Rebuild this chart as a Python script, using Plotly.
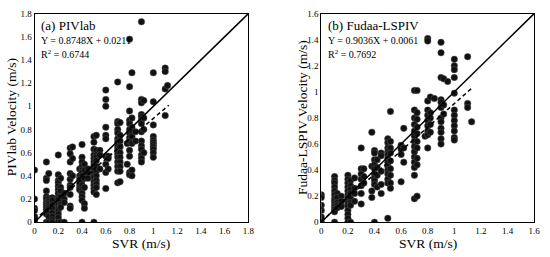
import plotly.graph_objects as go

# ---- Data: (a) PIVlab, grouped by SVR value ----
piv_svr_groups = [0.0, 0.1, 0.12, 0.15, 0.2, 0.22, 0.25, 0.3, 0.32, 0.38, 0.4, 0.42, 0.45,
                  0.5, 0.52, 0.55, 0.6, 0.62, 0.7, 0.72, 0.78, 0.8, 0.82, 0.85, 0.9, 0.92,
                  1.0, 1.1, 1.12]
piv_vel_groups = [
    [0.45, 0.20, 0.12, 0.10, 0.05, 0.02, 0.0],
    [0.52, 0.38, 0.36, 0.27, 0.22, 0.20, 0.17, 0.15, 0.13, 0.11, 0.09, 0.07, 0.0],
    [0.42, 0.20, 0.18, 0.16, 0.14, 0.12, 0.10, 0.08, 0.05, 0.0],
    [0.21, 0.19, 0.15, 0.12, 0.08, 0.05, 0.02, 0.0],
    [0.58, 0.41, 0.36, 0.34, 0.31, 0.28, 0.25, 0.22, 0.20, 0.17, 0.15, 0.12, 0.10, 0.07, 0.04, 0.0],
    [0.38, 0.30, 0.27, 0.22, 0.18, 0.15, 0.13, 0.0],
    [0.25, 0.20, 0.17, 0.0],
    [0.64, 0.59, 0.52, 0.42, 0.37, 0.32, 0.30, 0.24, 0.14, 0.12],
    [0.65, 0.55, 0.40],
    [0.46, 0.40, 0.37, 0.33, 0.30, 0.28],
    [0.67, 0.56, 0.52, 0.48, 0.45, 0.43, 0.40, 0.36, 0.32, 0.28, 0.25, 0.22, 0.19, 0.0],
    [0.50, 0.45, 0.38, 0.30, 0.16, 0.12],
    [0.46, 0.42, 0.38],
    [0.74, 0.69, 0.63, 0.58, 0.55, 0.52, 0.49, 0.46, 0.43, 0.39, 0.35, 0.32, 0.29, 0.26, 0.0],
    [0.75, 0.62, 0.58, 0.56, 0.53, 0.48, 0.44, 0.40, 0.36, 0.33, 0.30, 0.24],
    [0.62, 0.58, 0.46],
    [1.14, 1.06, 1.00, 0.82, 0.75, 0.72, 0.57, 0.50, 0.43, 0.29],
    [0.57, 0.55, 0.46],
    [1.21, 0.87, 0.85, 0.80, 0.77, 0.72, 0.69, 0.65, 0.62, 0.59, 0.56, 0.52, 0.48, 0.44, 0.34],
    [0.86, 0.75, 0.70, 0.65, 0.60, 0.56, 0.52, 0.48, 0.44, 0.35],
    [0.68, 0.50],
    [1.58, 1.17, 0.96, 0.88, 0.85, 0.80, 0.77, 0.73, 0.70, 0.62, 0.57, 0.43, 0.41],
    [1.29, 0.90, 0.82, 0.78, 0.74, 0.68, 0.45, 0.40],
    [0.78, 0.70],
    [1.73, 1.06, 1.03, 0.93, 0.91, 0.88, 0.85, 0.78, 0.70, 0.66, 0.63, 0.58, 0.55, 0.52],
    [1.05, 0.90, 0.80, 0.60],
    [1.29, 1.04, 0.84, 0.74, 0.71, 0.69, 0.67, 0.65, 0.63, 0.60, 0.56],
    [1.33, 1.30, 1.15, 0.92],
    [1.18],
]

# ---- Data: (b) Fudaa-LSPIV, grouped by SVR value ----
fud_svr_groups = [0.0, 0.1, 0.12, 0.15, 0.2, 0.22, 0.25, 0.3, 0.32, 0.38, 0.4, 0.42, 0.45,
                  0.5, 0.52, 0.6, 0.62, 0.7, 0.72, 0.78, 0.8, 0.82, 0.85, 0.9, 0.92, 0.95,
                  1.0, 1.1, 1.13]
fud_vel_groups = [
    [0.21, 0.19, 0.13, 0.09, 0.04, 0.0],
    [0.35, 0.32, 0.30, 0.27, 0.24, 0.21, 0.18, 0.16, 0.14, 0.12, 0.10, 0.08, 0.0],
    [0.22, 0.19, 0.15, 0.13, 0.11],
    [0.20, 0.16, 0.13, 0.12],
    [0.36, 0.33, 0.30, 0.27, 0.24, 0.21, 0.19, 0.16, 0.14, 0.12, 0.09, 0.06, 0.03, 0.0],
    [0.32, 0.28, 0.25, 0.22, 0.18, 0.15, 0.13, 0.0],
    [0.34, 0.26, 0.22, 0.16],
    [0.57, 0.41, 0.37, 0.33, 0.28, 0.22, 0.14],
    [0.41, 0.35, 0.30],
    [0.69, 0.43, 0.24, 0.19],
    [0.55, 0.53, 0.48, 0.44, 0.41, 0.37, 0.34, 0.32, 0.29, 0.0],
    [0.48, 0.42, 0.36, 0.27],
    [0.53, 0.51, 0.39, 0.29, 0.22],
    [0.64, 0.61, 0.57, 0.54, 0.52, 0.49, 0.46, 0.43, 0.40, 0.37, 0.33, 0.30, 0.03],
    [0.85, 0.62, 0.57, 0.53, 0.47, 0.41, 0.36, 0.30, 0.26],
    [0.59, 0.56, 0.52, 0.31],
    [0.72, 0.57, 0.46],
    [1.01, 0.86, 0.80, 0.75, 0.70, 0.66, 0.62, 0.58, 0.54, 0.50, 0.46, 0.42, 0.36, 0.18],
    [1.01, 0.84, 0.79, 0.73, 0.68, 0.62, 0.57, 0.49, 0.44, 0.20],
    [0.66],
    [1.41, 1.39, 0.93, 0.86, 0.82, 0.78, 0.74, 0.70, 0.67, 0.57],
    [0.96, 0.84, 0.80, 0.75, 0.69],
    [0.95],
    [1.38, 1.30, 1.11, 0.94, 0.92, 0.88, 0.80, 0.77, 0.72, 0.69, 0.64, 0.60],
    [1.10, 0.90, 0.83],
    [1.08],
    [1.25, 1.20, 1.17, 1.11, 0.99, 0.86, 0.82, 0.78, 0.74, 0.70, 0.65, 0.63],
    [1.27, 0.91, 0.88],
    [0.77],
]

# Regression results shown on chart
piv_slope, piv_icpt, piv_r2 = 0.8748, 0.0211, 0.6744
fud_slope, fud_icpt, fud_r2 = 0.9036, 0.0061, 0.7692
piv_axis_max = 1.8
fud_axis_max = 1.6
fit_x_range = [0.0, 1.13]
tick_vals_a = [0, 0.2, 0.4, 0.6, 0.8, 1, 1.2, 1.4, 1.6, 1.8]
tick_vals_b = [0, 0.2, 0.4, 0.6, 0.8, 1, 1.2, 1.4, 1.6]


def flatten(xs, ys):
    fx, fy = [], []
    for x, g in zip(xs, ys):
        for y in g:
            fx.append(x)
            fy.append(y)
    return fx, fy


px_, py_ = flatten(piv_svr_groups, piv_vel_groups)
fx_, fy_ = flatten(fud_svr_groups, fud_vel_groups)

FONT = "Liberation Serif"
fig = go.Figure()

marker = dict(size=6.5, color="#111111", line=dict(width=0.5, color="#555555"))
dash_style = "4px,3px"

# Panel a
fig.add_trace(go.Scatter(x=px_, y=py_, mode="markers", marker=marker, xaxis="x", yaxis="y"))
fig.add_trace(go.Scatter(x=[0, piv_axis_max], y=[0, piv_axis_max], mode="lines",
                         line=dict(color="black", width=1.5), xaxis="x", yaxis="y"))
fig.add_trace(go.Scatter(x=fit_x_range, y=[piv_slope * v + piv_icpt for v in fit_x_range],
                         mode="lines", line=dict(color="black", width=1.5, dash=dash_style),
                         xaxis="x", yaxis="y"))
# Panel b
fig.add_trace(go.Scatter(x=fx_, y=fy_, mode="markers", marker=marker, xaxis="x2", yaxis="y2"))
fig.add_trace(go.Scatter(x=[0, fud_axis_max], y=[0, fud_axis_max], mode="lines",
                         line=dict(color="black", width=1.5), xaxis="x2", yaxis="y2"))
fig.add_trace(go.Scatter(x=fit_x_range, y=[fud_slope * v + fud_icpt for v in fit_x_range],
                         mode="lines", line=dict(color="black", width=1.5, dash=dash_style),
                         xaxis="x2", yaxis="y2"))

W, H = 550, 257
ybot, ytop = 1 - 226 / H, 1 - 9 / H
axcommon = dict(showgrid=False, zeroline=False, showline=True, linecolor="black", linewidth=1,
                mirror=True, ticks="", tickfont=dict(family=FONT, size=9, color="black"))

fig.update_layout(
    width=W, height=H, margin=dict(l=0, r=0, t=0, b=0),
    paper_bgcolor="white", plot_bgcolor="white", showlegend=False,
    font=dict(family=FONT, color="black", size=10),
    xaxis=dict(domain=[33 / W, 250 / W], range=[0, piv_axis_max], tickvals=tick_vals_a,
               anchor="y", **axcommon),
    yaxis=dict(domain=[ybot, ytop], range=[0, piv_axis_max], tickvals=tick_vals_a,
               anchor="x", **axcommon),
    xaxis2=dict(domain=[324 / W, 540 / W], range=[0, fud_axis_max], tickvals=tick_vals_b,
                anchor="y2", **axcommon),
    yaxis2=dict(domain=[ybot, ytop], range=[0, fud_axis_max], tickvals=tick_vals_b,
                anchor="x2", **axcommon),
)

ann = []
# axis titles as paper-positioned annotations
title_font = dict(family=FONT, size=13.5, color="black")
ann.append(dict(xref="paper", yref="paper", x=(33 + 250) / 2 / W, y=1 - 248 / H,
                text="SVR (m/s)", showarrow=False, xanchor="center", yanchor="middle",
                font=title_font))
ann.append(dict(xref="paper", yref="paper", x=(324 + 540) / 2 / W, y=1 - 248 / H,
                text="SVR (m/s)", showarrow=False, xanchor="center", yanchor="middle",
                font=title_font))
ann.append(dict(xref="paper", yref="paper", x=10 / W, y=1 - 117 / H,
                text="PIVlab Velocity (m/s)", showarrow=False, textangle=-90,
                xanchor="center", yanchor="middle", font=title_font))
ann.append(dict(xref="paper", yref="paper", x=305 / W, y=1 - 117 / H,
                text="Fudaa-LSPIV Velocity (m/s)", showarrow=False, textangle=-90,
                xanchor="center", yanchor="middle", font=title_font))

for (xref, yref, title, slope, icpt, r2) in [
    ("x", "y", "(a) PIVlab", piv_slope, piv_icpt, piv_r2),
    ("x2", "y2", "(b) Fudaa-LSPIV", fud_slope, fud_icpt, fud_r2),
]:
    xd = xref + " domain"
    yd = yref + " domain"
    ann.append(dict(xref=xd, yref=yd, x=0.02, y=0.99, text=title, showarrow=False,
                    xanchor="left", yanchor="top", font=dict(family=FONT, size=13, color="black")))
    ann.append(dict(xref=xd, yref=yd, x=0.02, y=0.905, text=f"Y = {slope:.4f}X + {icpt:.4f}",
                    showarrow=False, xanchor="left", yanchor="top",
                    font=dict(family=FONT, size=10, color="black")))
    ann.append(dict(xref=xd, yref=yd, x=0.02, y=0.845, text=f"R<sup>2</sup> = {r2:.4f}",
                    showarrow=False, xanchor="left", yanchor="top",
                    font=dict(family=FONT, size=10, color="black")))
fig.update_layout(annotations=ann)

fig.write_html("out.html", config={"displayModeBar": False},
               post_script="document.body.style.margin='0';document.body.style.overflow='hidden';")
